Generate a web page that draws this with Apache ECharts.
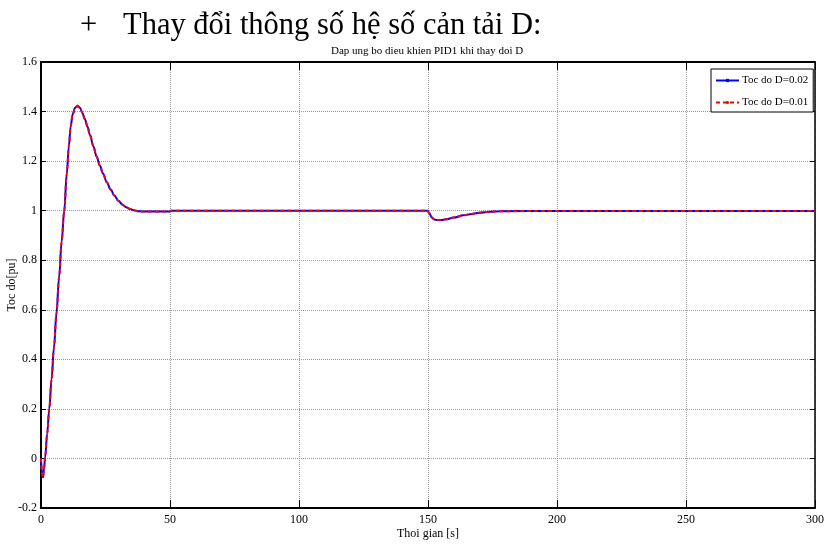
<!DOCTYPE html>
<html>
<head>
<meta charset="utf-8">
<script src="https://cdn.jsdelivr.net/npm/echarts@6/dist/echarts.min.js"></script>
<style>
  html, body { margin: 0; padding: 0; background: #ffffff; }
  #chart { width: 828px; height: 547px; }
</style>
</head>
<body>
<div id="chart"></div>
<script>
// Speed response of the PID1 controller for two load damping values D.
const timeS = [0, 0.4, 0.8, 1.2, 1.6, 2.4, 3.2, 4.1, 5, 6, 7, 8, 9, 10, 10.8, 11.5, 12.3, 13.2, 14.2, 15.1, 16, 17, 18, 19, 20.3, 21.5, 22.9, 24, 25.5, 27, 28.5, 30, 31.5, 33, 34.5, 36, 37.5, 39, 45, 49.8, 50.3, 100, 149.8, 150.5, 151.5, 152.5, 153.5, 155, 157, 160, 163.7, 167, 170, 174, 178, 200, 250, 300];

const speedD002 = [0, -0.065, -0.076, -0.04, 0.005, 0.1, 0.2, 0.32, 0.445, 0.585, 0.73, 0.875, 1.0, 1.15, 1.26, 1.34, 1.39, 1.415, 1.423, 1.415, 1.395, 1.37, 1.34, 1.305, 1.26, 1.22, 1.18, 1.15, 1.115, 1.085, 1.06, 1.04, 1.025, 1.014, 1.007, 1.002, 0.998, 0.997, 0.997, 0.997, 1.0, 1.0, 1.0, 0.99, 0.972, 0.964, 0.962, 0.962, 0.965, 0.972, 0.981, 0.987, 0.992, 0.996, 0.998, 0.999, 0.999, 0.999];

const speedD001 = [0, -0.065, -0.076, -0.04, 0.005, 0.1, 0.2, 0.32, 0.445, 0.585, 0.73, 0.875, 1.0, 1.15, 1.26, 1.34, 1.39, 1.415, 1.423, 1.415, 1.395, 1.37, 1.34, 1.305, 1.26, 1.22, 1.18, 1.15, 1.115, 1.085, 1.06, 1.04, 1.025, 1.014, 1.007, 1.002, 0.998, 0.997, 0.997, 0.997, 1.0, 1.0, 1.0, 0.99, 0.972, 0.964, 0.962, 0.962, 0.965, 0.972, 0.981, 0.987, 0.992, 0.996, 0.998, 0.999, 0.999, 0.999];

const seriesNames = ['Toc do D=0.02', 'Toc do D=0.01'];
const headingText = 'Thay đổi thông số hệ số cản tải D:';
const chartTitle = 'Dap ung bo dieu khien PID1 khi thay doi D';
const xName = 'Thoi gian [s]';
const yName = 'Toc do[pu]';

const serif = 'Liberation Serif, Times New Roman, serif';

function pairs(xs, ys) {
  return xs.map((x, i) => [x, ys[i]]);
}

const chart = echarts.init(document.getElementById('chart'), null, { renderer: 'canvas' });

const gridLine = { show: true, lineStyle: { color: '#999999', width: 1, type: [1, 1] } };

chart.setOption({
  backgroundColor: '#ffffff',
  animation: false,
  title: [
    {
      text: '+',
      left: 75, top: 5,
      textStyle: { fontFamily: serif, fontSize: 30.5, fontWeight: 'normal', color: '#000' }
    },
    {
      text: headingText,
      left: 118, top: 5,
      textStyle: { fontFamily: serif, fontSize: 30.5, fontWeight: 'normal', color: '#000' }
    },
    {
      text: chartTitle,
      left: 326, top: 41,
      textStyle: { fontFamily: serif, fontSize: 11, fontWeight: 'normal', color: '#000' }
    }
  ],
  legend: {
    orient: 'vertical',
    left: 711, top: 69,
    backgroundColor: '#ffffff',
    borderColor: '#000', borderWidth: 1,
    padding: [6, 5, 4, 4],
    itemWidth: 23, itemHeight: 4, itemGap: 11,
    textStyle: { fontFamily: serif, fontSize: 11, color: '#000', padding: [0, 0, 0, -2] },
    data: seriesNames
  },
  grid: { left: 41, right: 13, top: 62, bottom: 39, containLabel: false, outerBoundsMode: 'none' },
  xAxis: [
    {
      type: 'value', min: 0, max: 300, interval: 50,
      name: xName, nameLocation: 'middle', nameGap: 20, nameMoveOverlap: false,
      nameTextStyle: { fontFamily: serif, fontSize: 12, color: '#000' },
      axisLine: { show: true, onZero: false, lineStyle: { color: '#000', width: 2 } },
      axisTick: { show: true, inside: true, length: 8, lineStyle: { color: '#000' } },
      axisLabel: { fontFamily: serif, fontSize: 12, color: '#000', margin: 6 },
      splitLine: gridLine
    },
    {
      type: 'value', min: 0, max: 300, interval: 50, position: 'top',
      axisLine: { show: true, onZero: false, lineStyle: { color: '#000', width: 2 } },
      axisTick: { show: true, inside: true, length: 8, lineStyle: { color: '#000' } },
      axisLabel: { show: false },
      splitLine: { show: false }
    }
  ],
  yAxis: [
    {
      type: 'value', min: -0.2, max: 1.6, interval: 0.2,
      name: yName, nameLocation: 'middle', nameGap: 23, nameRotate: 90, nameMoveOverlap: false,
      nameTextStyle: { fontFamily: serif, fontSize: 12, color: '#000' },
      axisLine: { show: true, onZero: false, lineStyle: { color: '#000', width: 2 } },
      axisTick: { show: true, inside: true, length: 5, lineStyle: { color: '#000' } },
      axisLabel: {
        fontFamily: serif, fontSize: 12, color: '#000', margin: 4,
        formatter: v => String(Math.round(v * 10) / 10)
      },
      splitLine: gridLine
    },
    {
      type: 'value', min: -0.2, max: 1.6, interval: 0.2, position: 'right',
      axisLine: { show: true, onZero: false, lineStyle: { color: '#000', width: 1.5 } },
      axisTick: { show: true, inside: true, length: 5, lineStyle: { color: '#000' } },
      axisLabel: { show: false },
      splitLine: { show: false }
    }
  ],
  series: [
    {
      name: seriesNames[0],
      type: 'line',
      xAxisIndex: 0, yAxisIndex: 0,
      data: pairs(timeS, speedD002),
      smooth: 0.35, smoothMonotone: 'x',
      symbol: 'rect', symbolSize: 2, showSymbol: false,
      lineStyle: { color: '#0000ff', width: 2 },
      itemStyle: { color: '#0000ff' },
      z: 3
    },
    {
      name: seriesNames[1],
      type: 'line',
      xAxisIndex: 0, yAxisIndex: 0,
      data: pairs(timeS, speedD001),
      smooth: 0.35, smoothMonotone: 'x',
      symbol: 'circle', symbolSize: 3, showSymbol: false,
      lineStyle: { color: '#ff0000', width: 2, type: [4, 3] },
      itemStyle: { color: '#ff0000' },
      z: 4
    }
  ]
});
</script>
</body>
</html>
